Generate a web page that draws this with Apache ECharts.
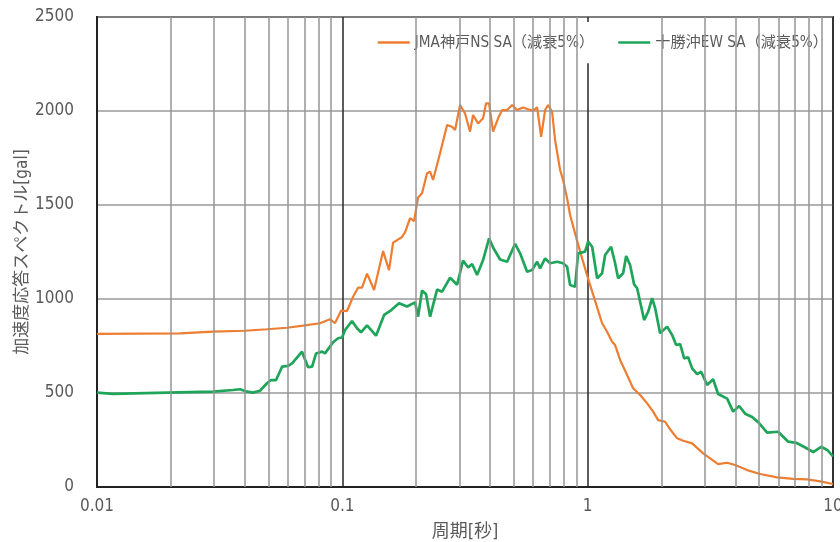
<!DOCTYPE html>
<html>
<head>
<meta charset="utf-8">
<script src="https://cdn.jsdelivr.net/npm/echarts@6/dist/echarts.min.js"></script>
<style>
  html, body { margin: 0; padding: 0; background: #fff; }
  #chart { width: 840px; height: 542px; }
</style>
</head>
<body>
<div id="chart"></div>
<script>
// Response spectra: period [s] vs spectral acceleration [gal], 5% damping
const kobeName = 'JMA神戸NS SA（減衰5%）';
const tokachiName = '十勝沖EW SA（減衰5%）';

const kobePeriod = [
  0.01, 0.0218, 0.0297, 0.0401, 0.0493, 0.0595, 0.0692, 0.0811, 0.0891, 0.0934,
  0.0988, 0.1045, 0.1106, 0.1159, 0.1203, 0.1261, 0.1347, 0.1466, 0.155, 0.161,
  0.1752, 0.1802, 0.1888, 0.1961, 0.2036, 0.2113, 0.2215, 0.2279, 0.2343, 0.2502,
  0.2673, 0.2801, 0.2881, 0.302, 0.3164, 0.3316, 0.3411, 0.3575, 0.3747, 0.3854,
  0.3964, 0.4116, 0.4314, 0.448, 0.4695, 0.492, 0.5156, 0.5455, 0.5718, 0.5992,
  0.6222, 0.646, 0.6707, 0.6898, 0.7161, 0.7366, 0.772, 0.7941, 0.8244, 0.8479,
  0.8886, 0.9316, 0.995, 1.052, 1.145, 1.2, 1.258, 1.294, 1.356, 1.448,
  1.532, 1.636, 1.748, 1.849, 1.938, 2.069, 2.168, 2.316, 2.45, 2.666,
  2.956, 3.402, 3.703, 3.991, 4.468, 5.049, 5.92, 6.883, 7.849, 8.866, 10
];
const kobeSA = [
  814, 817, 826, 831, 839, 847, 858, 871, 892, 872,
  938, 936, 1012, 1060, 1060, 1135, 1048, 1255, 1154, 1300,
  1330, 1355, 1430, 1415, 1540, 1562, 1669, 1677, 1633, 1775,
  1925, 1916, 1899, 2032, 1987, 1890, 1979, 1934, 1961, 2041,
  2041, 1890, 1961, 2005, 2005, 2032, 2005, 2019, 2009, 2002,
  2019, 1863, 2005, 2032, 1996, 1846, 1686, 1633, 1536, 1447,
  1349, 1252, 1125, 1025, 871, 826, 773, 755, 676, 596,
  525, 489, 445, 401, 356, 347, 307, 259, 246, 232,
  179, 122, 129, 117, 90, 69, 51, 43, 41, 30, 16
];

const tokachiPeriod = [
  0.01, 0.01162, 0.01929, 0.0297, 0.03585, 0.03828, 0.04088, 0.04325, 0.04618, 0.0493,
  0.0512, 0.0537, 0.0568, 0.0601, 0.0624, 0.0685, 0.0725, 0.0753, 0.0781, 0.0827,
  0.085, 0.0917, 0.0961, 0.0997, 0.1026, 0.1095, 0.1148, 0.1192, 0.1261, 0.1372,
  0.148, 0.1579, 0.1703, 0.1836, 0.1979, 0.2036, 0.2113, 0.2194, 0.2279, 0.2433,
  0.255, 0.2749, 0.2936, 0.3105, 0.3255, 0.338, 0.3542, 0.3747, 0.3964, 0.4116,
  0.4396, 0.4695, 0.5061, 0.5304, 0.5664, 0.5936, 0.6222, 0.6399, 0.6707, 0.7028,
  0.7506, 0.7941, 0.8244, 0.8479, 0.8886, 0.9142, 0.976, 1.004, 1.043, 1.093,
  1.145, 1.178, 1.246, 1.294, 1.331, 1.395, 1.435, 1.489, 1.546, 1.591,
  1.699, 1.764, 1.831, 1.884, 1.974, 2.108, 2.21, 2.295, 2.383, 2.474,
  2.568, 2.666, 2.794, 2.901, 3.069, 3.246, 3.402, 3.703, 3.917, 4.144,
  4.385, 4.682, 4.954, 5.39, 5.976, 6.567, 7.078, 7.702, 8.304, 8.95,
  9.469, 10
];
const tokachiSA = [
  502, 495, 502, 507, 516, 520, 507, 502, 512, 552,
  569, 569, 640, 644, 658, 720, 637, 640, 710, 720,
  711, 770, 791, 795, 835, 883, 844, 823, 860, 805,
  915, 940, 978, 960, 982, 906, 1045, 1025, 906, 1050,
  1039, 1113, 1076, 1205, 1168, 1186, 1128, 1207, 1323, 1274,
  1210, 1198, 1293, 1243, 1145, 1154, 1198, 1163, 1216, 1190,
  1198, 1190, 1172, 1074, 1065, 1243, 1252, 1305, 1278, 1110,
  1137, 1234, 1278, 1190, 1110, 1137, 1229, 1181, 1078, 1057,
  888, 932, 1004, 951, 818, 853, 808, 755, 760, 684,
  690, 631, 600, 613, 543, 573, 495, 470, 401, 431,
  390, 372, 345, 289, 294, 241, 235, 210, 186, 214,
  197, 163
];

// Minor log gridlines (2..9 within each decade)
const minorPeriods = [
  0.02, 0.03, 0.04, 0.05, 0.06, 0.07, 0.08, 0.09,
  0.2, 0.3, 0.4, 0.5, 0.6, 0.7, 0.8, 0.9,
  2, 3, 4, 5, 6, 7, 8, 9
];

const pair = (xs, ys) => xs.map((x, i) => [x, ys[i]]);

const textFont = "'DejaVu Sans Condensed', 'Noto Sans CJK JP', sans-serif";
const textColor = '#5a5a5a';

const chart = echarts.init(document.getElementById('chart'), null, { renderer: 'canvas' });
chart.setOption({
  animation: false,
  backgroundColor: '#ffffff',
  grid: {
    left: 97, right: 7, top: 17, bottom: 55,
    outerBoundsMode: 'none',
    show: true, borderColor: '#333', borderWidth: 2, backgroundColor: 'transparent'
  },
  legend: {
    data: [kobeName, tokachiName],
    right: 8, top: 22,
    padding: [13, 4, 13, 10],
    backgroundColor: '#ffffff',
    itemGap: 24,
    icon: 'rect',
    itemWidth: 32, itemHeight: 2.5,
    textStyle: { fontFamily: textFont, fontSize: 15.2, color: textColor }
  },
  xAxis: {
    type: 'log', logBase: 10, min: 0.01, max: 10,
    name: '周期[秒]', nameLocation: 'middle', nameGap: 36,
    nameMoveOverlap: false,
    nameTextStyle: { fontFamily: textFont, fontSize: 18, color: textColor },
    axisLine: { show: true, lineStyle: { color: '#222', width: 2 } },
    axisTick: { show: false },
    axisLabel: {
      fontFamily: textFont, fontSize: 17, color: textColor, margin: 11,
      formatter: v => String(+v.toPrecision(3))
    },
    splitLine: { show: true, lineStyle: { color: '#333', width: 1.6 } }
  },
  yAxis: {
    type: 'value', min: 0, max: 2500, interval: 500,
    name: '加速度応答スペクトル[gal]', nameLocation: 'middle', nameGap: 66,
    nameMoveOverlap: false,
    nameTextStyle: { fontFamily: textFont, fontSize: 17, color: textColor },
    axisLine: { show: true, lineStyle: { color: '#222', width: 2 } },
    axisTick: { show: false },
    axisLabel: {
      fontFamily: textFont, fontSize: 17, color: textColor, margin: 23,
      formatter: v => String(v)
    },
    splitLine: { show: true, lineStyle: { color: '#999', width: 1.5 } }
  },
  series: [
    {
      name: 'grid-minor', type: 'line', data: [], z: 1, silent: true,
      markLine: {
        silent: true, symbol: 'none', animation: false,
        label: { show: false },
        lineStyle: { color: '#959595', width: 1.5, type: 'solid' },
        data: minorPeriods.map(v => ({ xAxis: v }))
      }
    },
    {
      name: kobeName, type: 'line', z: 3,
      data: pair(kobePeriod, kobeSA),
      showSymbol: false, symbol: 'none',
      lineStyle: { color: '#ED7D31', width: 2.2 },
      itemStyle: { color: '#ED7D31' }
    },
    {
      name: tokachiName, type: 'line', z: 3,
      data: pair(tokachiPeriod, tokachiSA),
      showSymbol: false, symbol: 'none',
      lineStyle: { color: '#1FA55A', width: 2.7 },
      itemStyle: { color: '#1FA55A' }
    }
  ]
});
</script>
</body>
</html>
